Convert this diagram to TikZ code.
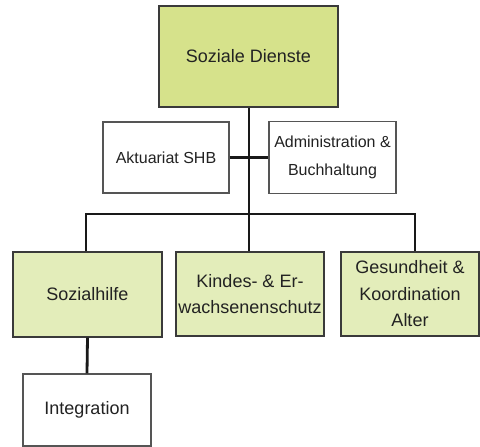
\documentclass[tikz,border=0pt]{standalone}
\usepackage{fontspec}
\setmainfont{Liberation Sans}
\definecolor{topfill}{HTML}{D6E28B}
\definecolor{subfill}{HTML}{E3EDBA}
\definecolor{boxline}{HTML}{3A3A3A}
\definecolor{whiteline}{HTML}{555555}
\definecolor{txt}{HTML}{222222}
\begin{document}
\begin{tikzpicture}[x=1pt,y=-1pt,
  box/.style={draw=boxline,line width=1.3pt,rectangle,inner sep=0pt,align=center,text=txt},
  greenbox/.style={box,fill=subfill,font=\fontsize{18}{26.5}\selectfont},
  whitebox/.style={box,draw=whiteline,fill=white,font=\fontsize{16}{28}\selectfont},
  conn/.style={draw=black!90,line width=2.8pt}]
\useasboundingbox (0,0) rectangle (480,447);
\node[box,fill=topfill,font=\fontsize{18}{22}\selectfont,minimum width=179pt,minimum height=101pt] (top) at (248.5,56.5) {Soziale Dienste};
\node[whitebox,minimum width=126pt,minimum height=71pt] (akt) at (166,157.5) {Aktuariat SHB};
\node[whitebox,minimum width=127pt,minimum height=72pt] (adm) at (332.5,157.5) {Administration \&\\Buchhaltung};
\node[greenbox,minimum width=149pt,minimum height=85pt] (soz) at (87.5,294.5) {Sozialhilfe};
\node[greenbox,minimum width=148pt,minimum height=84pt] (kin) at (250,294) {Kindes- \& Er-\\wachsenenschutz};
\node[greenbox,minimum width=138pt,minimum height=84pt] (ges) at (410,294) {Gesundheit \&\\Koordination\\Alter};
\node[whitebox,font=\fontsize{18}{26}\selectfont,minimum width=128pt,minimum height=72pt] (int) at (87,410) {Integration};
\coordinate (bus) at (249,214);
\coordinate (busl) at (86,214);
\coordinate (busr) at (415,214);
\draw[conn] (akt.east) -- (adm.west);
\draw[conn] (top.south -| bus) -- (bus);
\draw[conn] (soz.north -| busl) -- (busl) -- (busr) -- (ges.north -| busr);
\draw[conn] (bus) -- (kin.north -| bus);
\draw[conn] (soz.south) -- (int.north);
\end{tikzpicture}
\end{document}
